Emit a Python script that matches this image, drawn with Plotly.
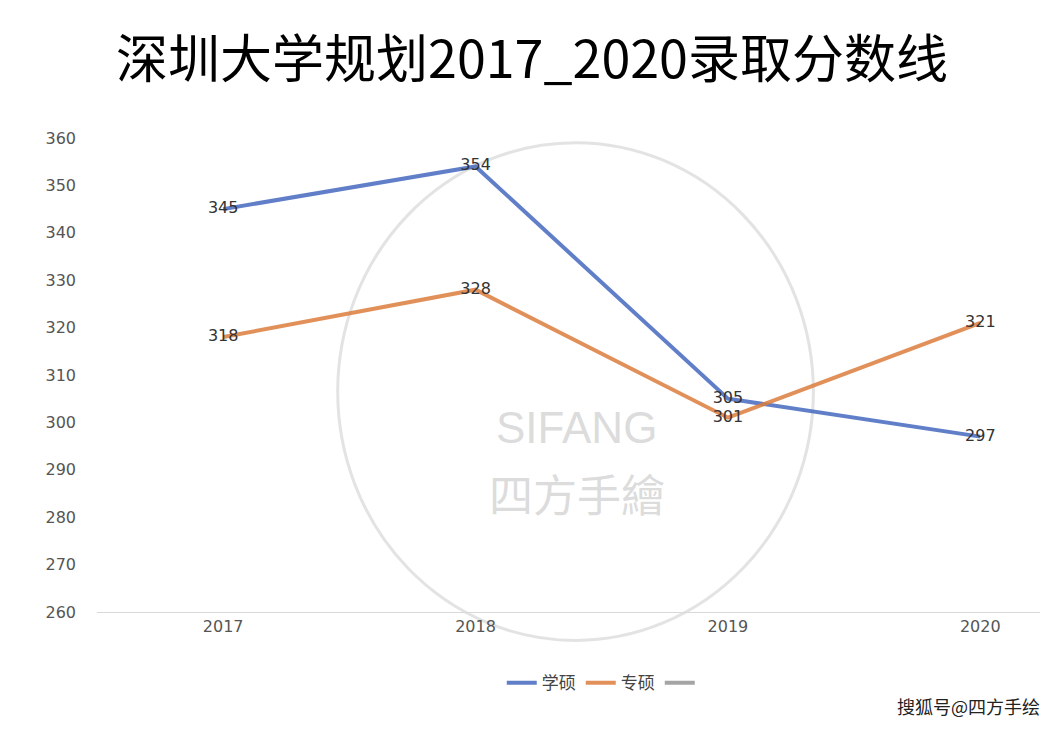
import plotly.graph_objects as go

years = ["2017", "2018", "2019", "2020"]
xueshuo = [345, 354, 305, 297]
zhuanshuo = [318, 328, 301, 321]

fig = go.Figure()
fig.add_trace(go.Scatter(x=years, y=xueshuo, name="学硕", mode="lines+text",
    text=[str(v) for v in xueshuo], textposition="middle center",
    textfont=dict(size=16, color="#333", family="DejaVu Sans"),
    line=dict(color="rgba(68,104,190,0.85)", width=4)))
fig.add_trace(go.Scatter(x=years, y=zhuanshuo, name="专硕", mode="lines+text",
    text=[str(v) for v in zhuanshuo], textposition="middle center",
    textfont=dict(size=16, color="#333", family="DejaVu Sans"),
    line=dict(color="rgba(220,125,60,0.85)", width=4)))
fig.add_trace(go.Scatter(x=[None], y=[None], name=" ", mode="lines",
    line=dict(color="#a5a5a5", width=4)))

# watermark
fig.add_shape(type="circle", xref="paper", yref="paper", x0=0.251, x1=0.747, y0=-0.06, y1=0.99,
    line=dict(color="rgba(200,200,200,0.5)", width=3), layer="below")
fig.add_annotation(text="SIFANG", xref="paper", yref="paper", x=0.5, y=0.39, showarrow=False,
    font=dict(size=44, color="rgba(190,190,190,0.55)", family="Liberation Sans"))
fig.add_annotation(text="四方手繪", xref="paper", yref="paper", x=0.5, y=0.18, showarrow=False,
    font=dict(size=44, color="rgba(190,190,190,0.55)", family="Noto Sans CJK TC"))
fig.add_annotation(text="搜狐号@四方手绘", xref="paper", yref="paper", x=0.985, y=-0.23, xanchor="right",
    showarrow=False, font=dict(size=18, color="#222", family="Noto Sans CJK SC"))

fig.update_layout(
    width=1048, height=747, paper_bgcolor="white", plot_bgcolor="white",
    margin=dict(l=89, r=0, t=130, b=143),
    title=dict(text="深圳大学规划2017_2020录取分数线", x=0.5, xanchor="center", y=0.93, yanchor="middle",
               font=dict(size=52, color="black", family="Noto Sans CJK SC")),
    xaxis=dict(type="category", range=[-0.5, 3.3], showgrid=False, showline=True,
               linecolor="#d9d9d9", ticks="", tickfont=dict(size=16, color="#555", family="DejaVu Sans")),
    yaxis=dict(range=[260, 360], dtick=10, showgrid=False, showline=False, zeroline=False,
               tickfont=dict(size=16, color="#555", family="DejaVu Sans"), ticklabelstandoff=20),
    legend=dict(orientation="h", x=0.53, xanchor="center", y=-0.15, yanchor="middle",
                font=dict(size=17, color="#444", family="Noto Sans CJK SC")),
    showlegend=True,
)
fig.write_html("out.html")
